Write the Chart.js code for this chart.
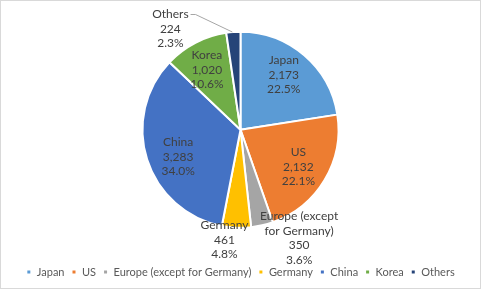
<!DOCTYPE html>
<html>
<head>
<meta charset="utf-8">
<script src="https://cdn.jsdelivr.net/npm/chart.js@4.4.0/dist/chart.umd.min.js"></script>
<style>
  html, body { margin: 0; padding: 0; background: #ffffff; }
  canvas { display: block; }
</style>
</head>
<body>
<canvas id="c" width="481" height="289"></canvas>
<script>
const categories = ["Japan", "US", "Europe (except for Germany)", "Germany", "China", "Korea", "Others"];
const labelNames = ["Japan", "US", "Europe (except\nfor Germany)", "Germany", "China", "Korea", "Others"];
const values = [2173, 2132, 350, 461, 3283, 1020, 224];
const colors = ["#5B9BD5", "#ED7D31", "#A5A5A5", "#FFC000", "#4472C4", "#70AD47", "#264478"];

// label placement: radius fraction along slice mid-angle plus pixel nudge
const labelPlace = [
  { rf: 0.71, dx: -2, dy: -2 },
  { rf: 0.70, dx: -1, dy: 2 },
  { rf: 1.0, dx: 37, dy: 13 },
  { rf: 1.0, dx: -12, dy: 12 },
  { rf: 0.70, dx: 3, dy: 6 },
  { rf: 0.70, dx: -2, dy: 1 },
  { rf: 1.0, dx: -63, dy: -3, leader: true }
];

const FONT = "Lato, 'Open Sans', sans-serif";
const total = values.reduce((a, b) => a + b, 0);

const labelPlugin = {
  id: 'sliceLabels',
  afterDatasetsDraw(chart) {
    const ctx = chart.ctx;
    const meta = chart.getDatasetMeta(0);
    ctx.save();
    ctx.font = "12px " + FONT;
    ctx.fillStyle = "#404040";
    ctx.textAlign = "center";
    ctx.textBaseline = "middle";
    const lh = 14.5;
    meta.data.forEach((arc, i) => {
      const p = arc.getProps(['x', 'y', 'startAngle', 'endAngle', 'outerRadius'], true);
      const mid = (p.startAngle + p.endAngle) / 2;
      const pl = labelPlace[i];
      const cx = p.x + Math.cos(mid) * p.outerRadius * pl.rf + pl.dx;
      const cy = p.y + Math.sin(mid) * p.outerRadius * pl.rf + pl.dy;
      const v = values[i];
      const lines = labelNames[i].split("\n").concat([
        v.toLocaleString('en-US'),
        (v / total * 100).toFixed(1) + "%"
      ]);
      const y0 = cy - (lines.length - 1) * lh / 2;
      lines.forEach((t, k) => ctx.fillText(t, cx, y0 + k * lh));
      if (pl.leader) {
        const w = ctx.measureText(lines[0]).width;
        const sx = cx + w / 2 + 2;
        const ex = p.x + Math.cos(mid) * p.outerRadius;
        const ey = p.y + Math.sin(mid) * p.outerRadius;
        ctx.strokeStyle = "#A6A6A6";
        ctx.lineWidth = 1;
        ctx.beginPath();
        ctx.moveTo(sx, y0);
        ctx.lineTo(sx + 5, y0);
        ctx.lineTo(ex - 1, ey);
        ctx.stroke();
      }
    });
    ctx.restore();
  },
  afterDraw(chart) {
    const ctx = chart.ctx;
    ctx.save();
    ctx.strokeStyle = "#D9D9D9";
    ctx.lineWidth = 1;
    ctx.strokeRect(0.5, 0.5, chart.width - 1, chart.height - 1);
    ctx.restore();
  }
};

new Chart(document.getElementById('c'), {
  type: 'pie',
  data: {
    labels: categories,
    datasets: [{
      data: values,
      backgroundColor: colors,
      borderColor: "#ffffff",
      borderWidth: 2,
      radius: 98
    }]
  },
  options: {
    responsive: false,
    animation: false,
    devicePixelRatio: 1,
    layout: { padding: { top: 0, bottom: 1.5, left: 0, right: 0 } },
    plugins: {
      tooltip: { enabled: false },
      legend: {
        position: 'bottom',
        labels: {
          boxWidth: 5,
          boxHeight: 5,
          padding: 7,
          color: "#595959",
          font: { size: 11, family: FONT }
        }
      }
    }
  },
  plugins: [labelPlugin]
});
</script>
</body>
</html>
